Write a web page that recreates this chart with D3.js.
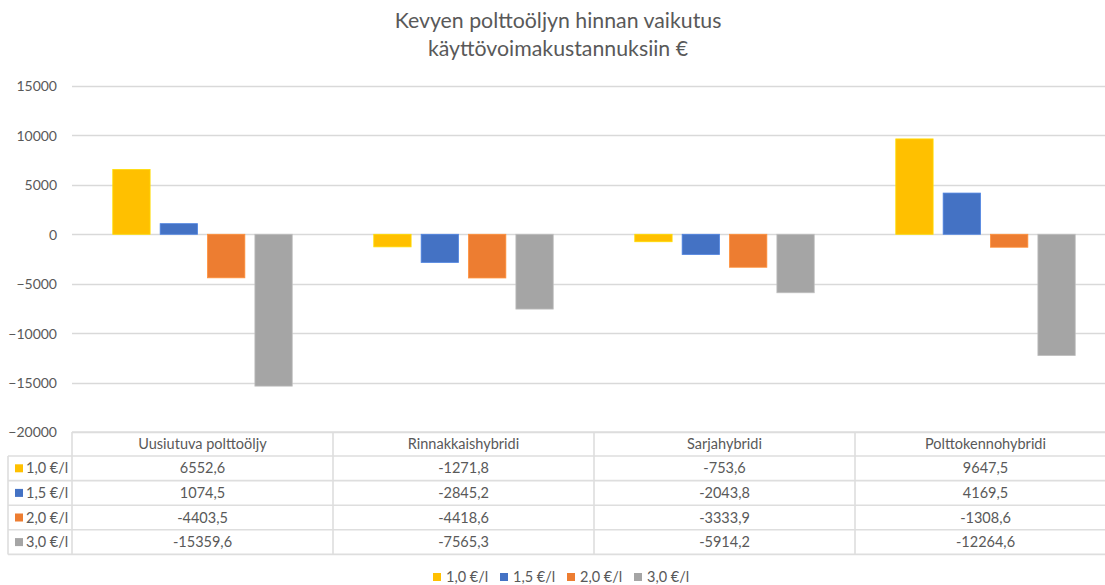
<!DOCTYPE html>
<html><head><meta charset="utf-8">
<script src="https://cdn.jsdelivr.net/npm/d3@7"></script>
<style>
html,body{margin:0;padding:0;background:#fff;}
svg text{font-family:Lato,"Liberation Sans",sans-serif;fill:#595959;}
</style></head>
<body><svg id="chart" width="1105" height="585"></svg>
<script>
const categories = ["Uusiutuva polttoöljy","Rinnakkaishybridi","Sarjahybridi","Polttokennohybridi"];
const seriesNames = ["1,0 €/l","1,5 €/l","2,0 €/l","3,0 €/l"];
const seriesColors = ["#FFC000","#4472C4","#ED7D31","#A5A5A5"];
const s10 = [6552.6, -1271.8, -753.6, 9647.5];
const s15 = [1074.5, -2845.2, -2043.8, 4169.5];
const s20 = [-4403.5, -4418.6, -3333.9, -1308.6];
const s30 = [-15359.6, -7565.3, -5914.2, -12264.6];
const yTicks = [15000,10000,5000,0,-5000,-10000,-15000,-20000];
const titleLines = ["Kevyen polttoöljyn hinnan vaikutus","käyttövoimakustannuksiin €"];

const series = [s10,s15,s20,s30].map((v,i)=>({name:seriesNames[i],color:seriesColors[i],values:v}));

const svg = d3.select("#chart");
const pLeft = 72, pRight = 1116, pTop = 86, pBottom = 432;
const x = d3.scaleBand().domain(categories).range([pLeft,pRight]);
const y = d3.scaleLinear().domain([-20000,15000]).range([pBottom,pTop]);
const bw = x.bandwidth();
const barW = bw*0.143, step = bw*0.1815;

// title
svg.append("g").selectAll("text").data(titleLines).join("text")
  .attr("x",558).attr("y",(d,i)=>28+i*28).attr("text-anchor","middle")
  .style("font-size","21.3px").text(d=>d);

// gridlines
svg.append("g").selectAll("line").data(yTicks).join("line")
  .attr("x1",pLeft).attr("x2",pRight).attr("y1",d=>Math.round(y(d))+0.5).attr("y2",d=>Math.round(y(d))+0.5)
  .attr("stroke","#d9d9d9").attr("stroke-width",1.3);

// y axis labels
const yAxis = d3.axisLeft(y).tickValues(yTicks).tickSize(0).tickPadding(0).tickFormat(d3.format("d"));
const ga = svg.append("g").attr("transform",`translate(57,0)`).call(yAxis);
ga.select(".domain").remove();
ga.attr("font-family",null).attr("font-size",null);
ga.selectAll("text").style("font-size","14px").attr("fill","#595959").attr("dy","0.35em");

// bars
const groups = svg.append("g").selectAll("g").data(series).join("g");
groups.each(function(s,si){
  d3.select(this).selectAll("rect").data(s.values.map((v,ci)=>({v,c:categories[ci]}))).join("rect")
    .attr("x",d=>x(d.c)+ (bw - step*3 - barW)/2 + si*step)
    .attr("width",barW)
    .attr("y",d=>Math.min(y(d.v),y(0)))
    .attr("height",d=>Math.abs(y(d.v)-y(0)))
    .attr("fill",s.color)
    .attr("stroke",d3.color(s.color).brighter(0.4)).attr("stroke-width",0.8);
});

// data table
const rowTop = 432, headerH = 24, rowH = 24.6;
const tbl = svg.append("g");
const lineCol = "#dedede";
tbl.append("line").attr("x1",pLeft).attr("x2",pRight).attr("y1",rowTop).attr("y2",rowTop).attr("stroke",lineCol).attr("stroke-width",1.6);
for(let r=0;r<=series.length;r++){
  const yy = rowTop+headerH+r*rowH;
  tbl.append("line").attr("x1",8).attr("x2",pRight).attr("y1",yy).attr("y2",yy).attr("stroke",lineCol).attr("stroke-width",1.6);
}
const tableBottom = rowTop+headerH+series.length*rowH;
tbl.append("line").attr("x1",8).attr("x2",8).attr("y1",rowTop+headerH).attr("y2",tableBottom).attr("stroke",lineCol).attr("stroke-width",1.6);
categories.forEach(c=>{
  tbl.append("line").attr("x1",x(c)).attr("x2",x(c)).attr("y1",rowTop).attr("y2",tableBottom).attr("stroke",lineCol).attr("stroke-width",1.6);
});
tbl.append("g").selectAll("text").data(categories).join("text")
  .attr("x",d=>x(d)+bw/2).attr("y",rowTop+headerH/2).attr("dy","0.35em").attr("text-anchor","middle")
  .style("font-size","14.5px").text(d=>d);
series.forEach((s,si)=>{
  const cy = rowTop+headerH+si*rowH+rowH/2;
  tbl.append("rect").attr("x",15).attr("y",cy-4).attr("width",8).attr("height",8).attr("fill",s.color);
  tbl.append("text").attr("x",26).attr("y",cy).attr("dy","0.35em").style("font-size","14.5px").text(s.name);
  tbl.append("g").selectAll("text").data(s.values).join("text")
    .attr("x",(d,ci)=>x(categories[ci])+bw/2).attr("y",cy).attr("dy","0.35em").attr("text-anchor","middle")
    .style("font-size","14.5px").text(d=>String(d).replace(".",","));
});

// legend
const leg = svg.append("g");
series.forEach((s,i)=>{
  const lx = 433 + i*67;
  leg.append("rect").attr("x",lx).attr("y",573).attr("width",8).attr("height",8).attr("fill",s.color);
  leg.append("text").attr("x",lx+13).attr("y",577).attr("dy","0.35em").style("font-size","14.5px").text(s.name);
});
</script></body></html>
